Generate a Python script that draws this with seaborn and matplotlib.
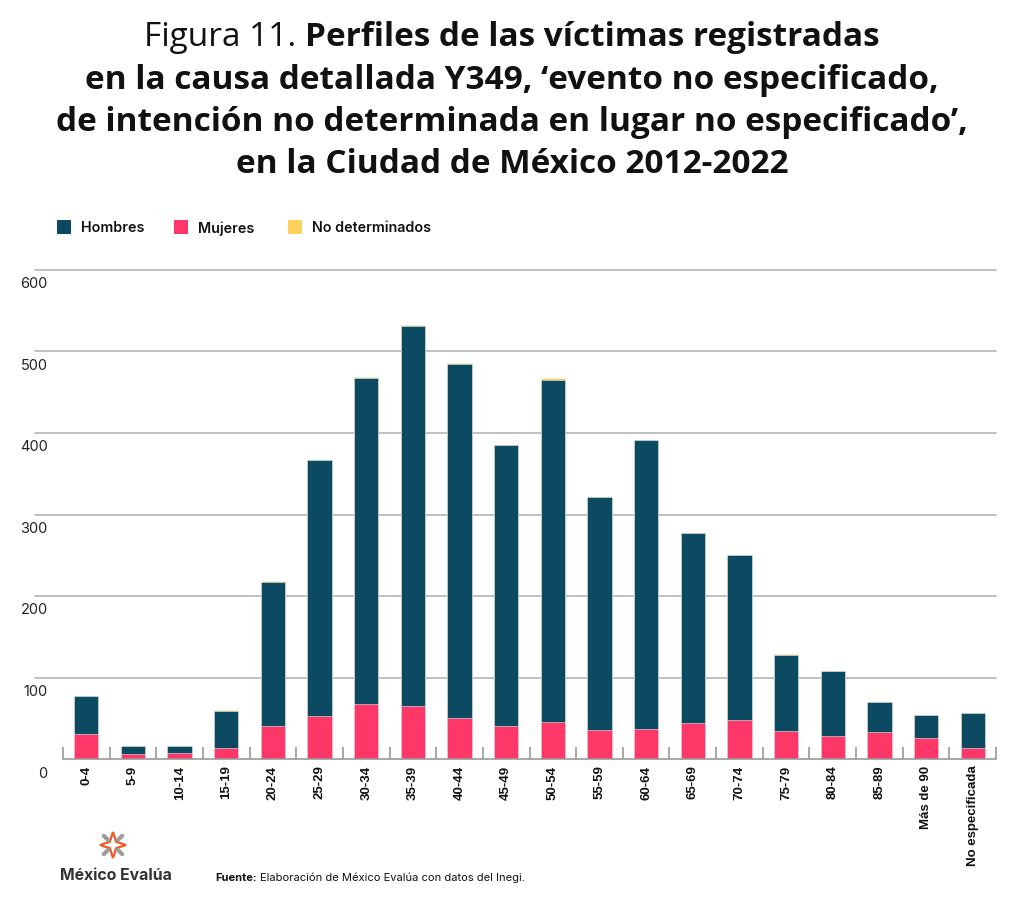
import numpy as np
import pandas as pd
import matplotlib
matplotlib.use("Agg")
import matplotlib.pyplot as plt
import matplotlib.transforms as mtransforms
from matplotlib.patches import Rectangle, Polygon
from matplotlib.lines import Line2D
import seaborn as sns

# ---------------- data ----------------
categorias = ["0-4", "5-9", "10-14", "15-19", "20-24", "25-29", "30-34", "35-39",
              "40-44", "45-49", "50-54", "55-59", "60-64", "65-69", "70-74",
              "75-79", "80-84", "85-89", "Más de 90", "No especificada"]
hombres = [46, 10, 9, 45, 176, 314, 401, 466, 435, 345, 420, 285, 355, 233, 202,
           94, 80, 37, 28, 43]
mujeres = [31, 6, 7, 14, 41, 53, 67, 65, 50, 40, 45, 36, 37, 44, 48, 34, 28, 33, 26, 13]
no_determinados = [0, 0, 0, 1, 1, 0, 1, 2, 1, 0, 2, 0, 0, 0, 0, 1, 0, 0, 0, 0]
y_ticks = [0, 100, 200, 300, 400, 500, 600]
series_names = ["Hombres", "Mujeres", "No determinados"]

C_H = "#0b4a60"
C_M = "#fe3769"
C_N = "#ffd15c"
GRID = "#b5b5b5"
AX = "#9a9a9a"

sns.set_theme(style="white")
FONT = ["Inter", "DejaVu Sans"]
TFONT = ["Open Sans", "DejaVu Sans"]
plt.rcParams["font.family"] = FONT

W, H = 1024, 903
fig = plt.figure(figsize=(W / 100, H / 100), dpi=100)
fig.patch.set_facecolor("white")

def fx(px):
    return px / W

def fy(py):
    return 1 - py / H

ax = fig.add_axes([fx(63), fy(760), fx(996) - fx(63), fy(271) - fy(760)])

df = pd.DataFrame({
    "edad": categorias,
    "h": hombres,
    "m": mujeres,
    "n": no_determinados,
})
df["hm"] = df["h"] + df["m"]
df["tot"] = df["hm"] + df["n"]

bw = 0.52
for col, c in [("tot", C_N), ("hm", C_H), ("m", C_M)]:
    sns.barplot(data=df, x="edad", y=col, order=categorias, color=c,
                saturation=1, width=bw, ax=ax, edgecolor="#e8eef0",
                linewidth=0.4, zorder=2)

ax.set_xlim(-0.5, len(categorias) - 0.5)
ax.set_ylim(0, 600)
ax.set_xlabel("")
ax.set_ylabel("")

# gridlines extending to the left
for v in y_ticks[1:]:
    ax.axhline(v, xmin=-(63 - 35) / (996 - 63), xmax=1, color=GRID, lw=1.2,
               clip_on=False, zorder=0.5)

for s in ["top", "right", "left"]:
    ax.spines[s].set_visible(False)
ax.spines["bottom"].set_color(AX)
ax.spines["bottom"].set_linewidth(1.2)
ax.spines["bottom"].set_zorder(3)

# x ticks
ax.set_xticks(np.arange(len(categorias)))
ax.set_xticklabels(categorias, rotation=90, fontsize=9.5, fontweight="bold",
                   family=["Liberation Sans", "DejaVu Sans"], color="#111111",
                   va="top", ha="center")
ax.set_xticks(np.arange(-0.5, len(categorias), 1), minor=True)
ax.tick_params(axis="x", which="major", length=0, pad=4)
ax.tick_params(axis="x", which="minor", direction="in", length=9, width=1.2,
               color=AX, bottom=True)

# y ticks
ax.set_yticks(y_ticks)
ax.set_yticklabels([str(v) for v in y_ticks], fontsize=10.5, color="#222222")
ax.tick_params(axis="y", length=0, pad=11)
off = mtransforms.ScaledTranslation(0, -12 / 100, fig.dpi_scale_trans)
for lab in ax.get_yticklabels():
    lab.set_transform(lab.get_transform() + off)

# ---------------- title ----------------
renderer = fig.canvas.get_renderer()
title_lines = [
    "en la causa detallada Y349, ‘evento no especificado,",
    "de intención no determinada en lugar no especificado’,",
    "en la Ciudad de México 2012-2022",
]
# fit font size so that the 2nd line spans ~900 px as in the reference
probe = fig.text(0, 0, title_lines[0], fontsize=20, fontweight="bold", family=TFONT)
pw = probe.get_window_extent(renderer).width
probe.remove()
TS = min(24, 20 * 900 / pw)

p1 = fig.text(0, fy(46), "Figura 11. ", fontsize=TS, fontweight="normal",
              family=TFONT, color="#111111", va="baseline", ha="left")
p2 = fig.text(0, fy(46), "Perfiles de las víctimas registradas", fontsize=TS,
              fontweight="bold", family=TFONT, color="#111111", va="baseline",
              ha="left")
w1 = p1.get_window_extent(renderer).width
w2 = p2.get_window_extent(renderer).width
x0 = 512 - (w1 + w2) / 2
p1.set_x(fx(x0))
p2.set_x(fx(x0 + w1))

for i, line in enumerate(title_lines):
    fig.text(0.5, fy(89 + 42 * i), line, fontsize=TS, fontweight="bold",
             family=TFONT, color="#111111", va="baseline", ha="center")

# ---------------- legend ----------------
leg_x = [57, 174, 288]
for name, c, lx in zip(series_names, [C_H, C_M, C_N], leg_x):
    fig.add_artist(Rectangle((fx(lx), fy(235)), fx(14), 14 / H,
                             transform=fig.transFigure, facecolor=c,
                             edgecolor="none"))
    fig.text(fx(lx + 24), fy(228.5), name, fontsize=10.3, fontweight="semibold",
             color="#111111", va="center", ha="left")

# ---------------- footer ----------------
cx, cy = 113, 846
outer, inner = 13, 4.5
pts = []
for k in range(8):
    ang = np.pi / 2 + k * np.pi / 4
    r = outer if k % 2 == 0 else inner
    pts.append((fx(cx + r * np.cos(ang)), fy(cy - r * np.sin(ang))))
fig.add_artist(Polygon(pts, closed=True, transform=fig.transFigure,
                       facecolor="none", edgecolor="#f05a28", lw=1.6))
for k in range(4):
    ang = np.pi / 4 + k * np.pi / 2
    xs = [fx(cx + 7 * np.cos(ang)), fx(cx + 13 * np.cos(ang))]
    ys = [fy(cy - 7 * np.sin(ang)), fy(cy - 13 * np.sin(ang))]
    fig.add_artist(Line2D(xs, ys, transform=fig.transFigure, color="#9d9d9d",
                          lw=3, solid_capstyle="round"))

fig.text(fx(60), fy(876), "México Evalúa", fontsize=11.4, fontweight="bold",
         color="#333333", va="center", ha="left")

f1 = fig.text(fx(215), fy(878), "Fuente:", fontsize=8, fontweight="bold",
              color="#111111", va="center", ha="left")
wf = f1.get_window_extent(renderer).width
fig.text(fx(215 + wf + 3), fy(878), "Elaboración de México Evalúa con datos del Inegi.",
         fontsize=8, color="#111111", va="center", ha="left")

fig.savefig("out.png", dpi=100, facecolor="white")
